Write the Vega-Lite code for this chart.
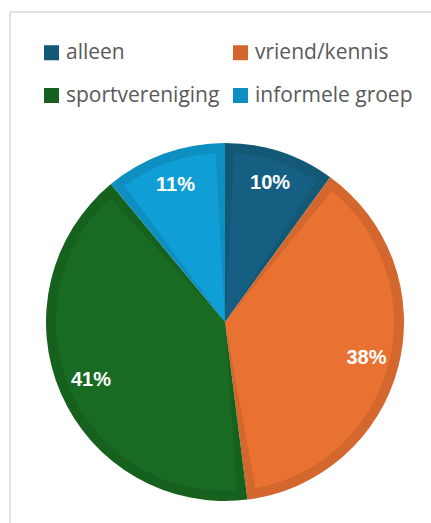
{
  "$schema": "https://vega.github.io/schema/vega-lite/v6.json",
  "autosize": "none",
  "width": 430,
  "height": 620,
  "padding": {"left": 10, "top": 12, "right": 0, "bottom": 0},
  "background": "white",
  "view": {"stroke": "#d9d9d9", "strokeWidth": 1.5, "fill": "white"},
  "config": {
    "legend": {"labelFont": "Open Sans", "labelFontSize": 21, "labelColor": "#595959"}
  },
  "data": {
    "values": [
      {"cat": "alleen", "order": 1, "share": 0.10},
      {"cat": "vriend/kennis", "order": 2, "share": 0.38},
      {"cat": "sportvereniging", "order": 3, "share": 0.41},
      {"cat": "informele groep", "order": 4, "share": 0.11}
    ]
  },
  "encoding": {
    "theta": {"field": "share", "type": "quantitative", "stack": true},
    "order": {"field": "order", "type": "quantitative"}
  },
  "layer": [
    {
      "mark": {"type": "arc", "radius": 179},
      "encoding": {
        "color": {
          "field": "cat",
          "type": "nominal",
          "sort": ["alleen", "vriend/kennis", "sportvereniging", "informele groep"],
          "scale": {
            "domain": ["alleen", "vriend/kennis", "sportvereniging", "informele groep"],
            "range": ["#135874", "#d3672d", "#17611f", "#0e8fc1"]
          },
          "legend": {
            "title": null,
            "orient": "none",
            "direction": "horizontal",
            "legendX": 31,
            "legendY": 30,
            "columns": 2,
            "columnPadding": 10,
            "rowPadding": 21,
            "symbolType": "square",
            "symbolSize": 225,
            "symbolStrokeWidth": 0,
            "labelOffset": 4,
            "padding": 0
          }
        }
      }
    },
    {
      "mark": {"type": "arc", "radius": 169, "padAngle": 0.11},
      "encoding": {
        "fill": {
          "field": "cat",
          "type": "nominal",
          "scale": {
            "domain": ["alleen", "vriend/kennis", "sportvereniging", "informele groep"],
            "range": ["#156082", "#e97132", "#196b24", "#0f9ed5"]
          },
          "legend": null
        }
      }
    },
    {
      "mark": {"type": "text", "radius": 146, "font": "Liberation Sans", "fontWeight": "bold", "fontSize": 20, "fill": "white"},
      "encoding": {
        "text": {"field": "share", "type": "quantitative", "format": ".0%"}
      }
    }
  ]
}
